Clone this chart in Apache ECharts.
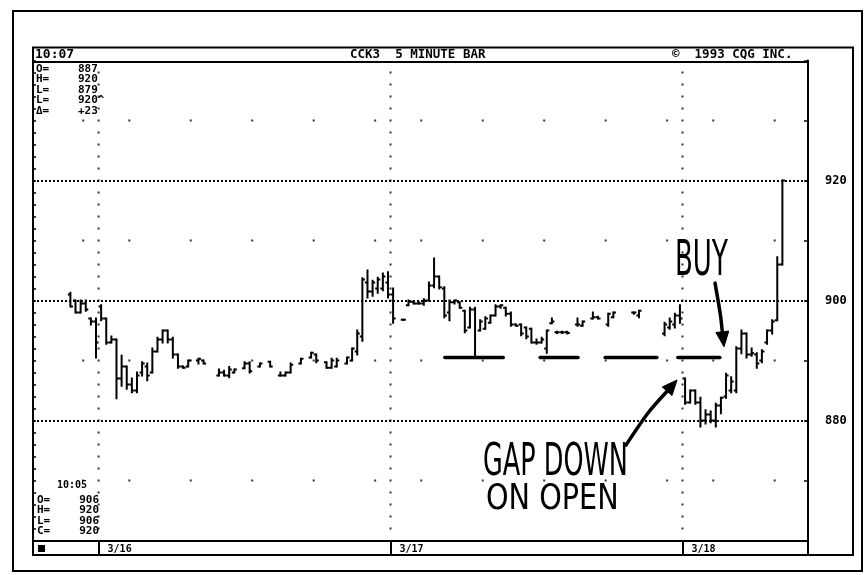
<!DOCTYPE html>
<html><head><meta charset="utf-8">
<script src="https://cdn.jsdelivr.net/npm/echarts@6/dist/echarts.min.js"></script>
<style>html,body{margin:0;padding:0;background:#fff}#c{width:866px;height:575px}</style>
</head><body><div id="c"></div>
<script>
// ---- data ----
const dayLabels = ['3/16', '3/17', '3/18'];
const dayStartIndex = [13, 70, 127];          // bar index where each session starts
const priceTicks = [880, 900, 920];
const hourRows = [870, 890, 910, 930];

const openVals = [
  null,null,null,null,null,null,null,901,900,898,899.5,897,896.5,
  899,897,893,893.5,887,889,886,885,888,889,
  888,891.5,893.5,895,893.5,891,889,889,null,890,
  890,null,null,887.5,888,887.5,888,null,888.7,889.5,
  null,889,null,889.8,null,887.5,887.5,888,null,889.5,
  null,890.5,891,null,889.7,888.8,889,null,889.5,890,
  891.5,894,903,901.5,902,902,903,
  901,null,896.8,899.2,899.8,899.5,899.5,900,902.5,904,
  902,898,899.7,899.7,898.3,895.5,898.5,895,895.3,896.3,
  897.5,899,898.8,897.8,896,896,895.5,895.3,893,893,
  892,896.2,894.7,894.7,894.7,null,896,895.8,null,897,
  897.2,null,896,897.2,null,null,null,898,897.5,null,
  null,null,null,894.5,895.5,896,897.5,
  887,883,885,883,880,881,880,882.5,884,885,
  885,892,894.5,891,891,890,893,895,896.7,906
];
const highVals = [
  null,null,null,null,null,null,null,901.3,900,900,900,897,897,
  899.2,897,894,893.5,890.8,889,887,888,889.7,889.5,
  892,893.8,895,895,893.8,891,889,890,null,890.3,
  890,null,null,888.5,888.3,888.9,888.5,null,889.7,889.7,
  null,889.5,null,889.8,null,888,888,889.5,null,890.3,
  null,891.3,891,null,889.7,890.3,890.3,null,890.5,892,
  895,903.7,905,903.3,903.8,904.5,904.7,
  902,null,896.8,900,899.8,899.7,900.2,903,907,904,
  902.2,900,900,899.7,898.3,898.8,898.8,896.7,897.2,897.5,
  899.2,899.2,898.8,898,896,896,895.5,895.3,893.5,893.8,
  895,897,894.8,894.8,894.8,null,897,896.5,null,898,
  897.3,null,897.8,898,null,null,null,898,898.3,null,
  null,null,null,896.3,897,897.8,899.2,
  887,885,885,883.8,881.7,881.5,882.8,883.8,887.8,887.2,
  892.2,895,894.5,892,891.2,891.7,895,896.7,907.2,920
];
const lowVals = [
  null,null,null,null,null,null,null,899,898,898,898.3,896,890.5,
  896.7,892.8,893,883.7,885.8,885.3,884.7,884.7,887.5,886.7,
  888,891.5,893,893,890.5,888.8,888.8,889,null,889.5,
  889.5,null,null,887.5,887.5,887.2,888,null,888.7,888,
  null,889,null,889,null,887.5,887.5,888,null,889.5,
  null,890.5,889.7,null,888.8,888.8,889,null,889.5,890,
  891,893.3,900.5,900.8,901.3,901.7,900.5,
  896.3,null,896.8,899.2,899.5,899.5,899.3,900,902.2,902,
  897.2,896.7,899.5,898.8,894.7,895.5,890.5,895,895.3,896.3,
  897.5,898.8,897.5,895.8,895.8,894.2,893.7,893,892.8,893,
  891.3,896.2,894.6,894.6,894.5,null,895.8,895.8,null,897,
  897,null,895.8,897.2,null,null,null,897.8,897.2,null,
  null,null,null,894.2,895.3,895.5,896.3,
  882.8,883,882.8,879,879.5,879.7,879,881.2,883.8,884.7,
  884.7,891.2,890.5,890.8,888.8,889.7,892.8,894.5,896.7,906
];
const closeVals = [
  null,null,null,null,null,null,null,899,898,899.5,898.5,896.5,893,
  897,893,893.5,887,889,886,885,887.5,889.5,887.5,
  891.5,893.5,895,893.5,891,889,888.8,890,null,890.3,
  889.5,null,null,888,887.5,888.5,888.5,null,889.5,888.2,
  null,889.5,null,889,null,887.5,888,889.3,null,890.3,
  null,891.3,890,null,888.8,890,890,null,890.5,892,
  894.5,903.5,901.5,903,903.5,904,901,
  897,null,896.8,899.8,899.5,899.5,900,902.5,904,902.2,
  897.5,899.7,900,898.8,895,898.5,890.5,896.5,897,897.5,
  899,899.2,897.8,896,895.8,894.5,894,893,893,893.5,
  895,896.5,894.7,894.7,894.6,null,896,896.5,null,897.2,
  897,null,897.8,898,null,null,null,898,898.3,null,
  null,null,null,896,896.5,897.5,897,
  883,885,883,880,881,880,882.5,883.8,887.5,886.5,
  892,894.5,891,891.2,889.5,891.5,895,896.5,906,920
];

// hand-drawn annotations (in bar-index / price units)
const supportLevel = 890.5;
const supportSegments = [[80.6, 92.0], [99.2, 106.6], [111.9, 122.0], [126.1, 134.3]];
const buyArrow = [[133.35, 902.9], [134.4, 897.6], [135.1, 892.3]];
const gapArrow = [[115.97, 875.9], [120.27, 881.25], [125.93, 886.75]];
const buyLabelAt = [125.54, 906.4];
const gapLabelAt = [88.06, 872.9];
const openLabelAt = [88.64, 866.75];

// ---- build ----
const bars = [];
for (let i = 0; i < openVals.length; i++) {
  if (highVals[i] == null) continue;
  bars.push([i + 0.5, openVals[i], highVals[i], lowVals[i], closeVals[i]]);
}
const dots = [];
dayStartIndex.forEach(s => { for (let p = 862; p <= 938; p += 2) dots.push([s, p]); });
const hourMarks = [dayStartIndex[0] - 3];
dayStartIndex.forEach(s => { for (let k = 0; k < 5; k++) { const v = s + 6 + 12 * k; if (v < 151) hourMarks.push(v); } });
hourMarks.forEach(x => hourRows.forEach(p => dots.push([x, p])));

const mono = '"DejaVu Sans Mono", "Liberation Mono", monospace';
const chart = echarts.init(document.getElementById('c'), null, {renderer: 'canvas'});

function txt(x, y, s, size, align) {
  return {type: 'text', x: x, y: y, z: 10,
    style: {text: s, font: 'bold ' + size + 'px ' + mono, fill: '#000', align: align || 'left', verticalAlign: 'middle'}};
}
function ln(x1, y1, x2, y2, w) {
  return {type: 'line', z: 10, shape: {x1, y1, x2, y2}, style: {stroke: '#000', lineWidth: w || 2}};
}

const graphics = [
  {type: 'rect', z: 10, shape: {x: 13, y: 11, width: 849, height: 560}, style: {fill: null, stroke: '#000', lineWidth: 2}},
  {type: 'rect', z: 10, shape: {x: 33, y: 47.5, width: 820, height: 507.5}, style: {fill: null, stroke: '#000', lineWidth: 2}},
  ln(33, 62, 808, 62, 2),
  ln(808, 540, 808, 555, 2),
  {type: 'rect', z: 10, shape: {x: 38, y: 545, width: 7, height: 7}, style: {fill: '#000'}},
  txt(35, 55, '10:07', 13),
  txt(350, 55, 'CCK3  5 MINUTE BAR', 12.5),
  txt(672, 55, '©  1993 CQG INC.', 12.5),
  txt(36, 69, 'O=', 11), txt(78, 69, '887', 11),
  txt(36, 79.5, 'H=', 11), txt(78, 79.5, '920', 11),
  txt(36, 90, 'L=', 11), txt(78, 90, '879', 11),
  txt(36, 100.5, 'L=', 11), txt(78, 100.5, '920^', 11),
  txt(36, 111, 'Δ=', 11), txt(78, 111, '+23', 11),
  txt(57, 485, '10:05', 10),
  txt(37, 500, 'O=', 11), txt(99, 500, '906', 11, 'right'),
  txt(37, 510.5, 'H=', 11), txt(99, 510.5, '920', 11, 'right'),
  txt(37, 521, 'L=', 11), txt(99, 521, '906', 11, 'right'),
  txt(37, 531.5, 'C=', 11), txt(99, 531.5, '920', 11, 'right')
];

function renderBar(params, api) {
  const x = api.value(0);
  const pH = api.coord([x, api.value(2)]);
  const pL = api.coord([x, api.value(3)]);
  const pO = api.coord([x, api.value(1)]);
  const pC = api.coord([x, api.value(4)]);
  const half = api.size([1, 0])[0] / 2;
  const st = {stroke: '#000', lineWidth: 2};
  return {type: 'group', children: [
    {type: 'line', shape: {x1: pH[0], y1: pH[1] - 1, x2: pL[0], y2: pL[1] + 1}, style: st},
    {type: 'line', shape: {x1: pO[0] - half, y1: pO[1], x2: pO[0], y2: pO[1]}, style: st},
    {type: 'line', shape: {x1: pC[0], y1: pC[1], x2: pC[0] + half, y2: pC[1]}, style: st}
  ]};
}

function renderNotes(params, api) {
  const P = a => api.coord(a);
  const ch = [];
  supportSegments.forEach(seg => {
    const a = P([seg[0], supportLevel]), b = P([seg[1], supportLevel]);
    ch.push({type: 'line', shape: {x1: a[0], y1: a[1], x2: b[0], y2: b[1]}, style: {stroke: '#000', lineWidth: 3.5, lineCap: 'round'}});
  });
  [buyArrow, gapArrow].forEach(arr => {
    const pts = arr.map(P);
    const tip = pts[pts.length - 1], prev = pts[pts.length - 2];
    const ang = Math.atan2(tip[1] - prev[1], tip[0] - prev[0]);
    const L = 15, W = 6.5;
    const bx = tip[0] - L * Math.cos(ang), by = tip[1] - L * Math.sin(ang);
    const shaft = pts.slice(0, -1).concat([[bx, by]]);
    ch.push({type: 'polyline', shape: {points: shaft, smooth: 0.3}, style: {stroke: '#000', lineWidth: 3.5, fill: null, lineCap: 'round'}});
    ch.push({type: 'polygon', shape: {points: [tip, [bx + W * Math.sin(ang), by - W * Math.cos(ang)], [bx - W * Math.sin(ang), by + W * Math.cos(ang)]]}, style: {fill: '#000', stroke: '#000', lineWidth: 1}});
  });
  const hand = '"DejaVu Sans", sans-serif';
  const t = (at, s, size, sx) => { const p = P(at); return {type: 'text', x: p[0], y: p[1], scaleX: sx, style: {text: s, font: size + 'px ' + hand, fill: '#000', align: 'left', verticalAlign: 'middle'}}; };
  ch.push(t(buyLabelAt, 'BUY', 50, 0.52));
  ch.push(t(gapLabelAt, 'GAP DOWN', 44, 0.58));
  ch.push(t(openLabelAt, 'ON OPEN', 35, 0.82));
  return {type: 'group', children: ch};
}

chart.setOption({
  animation: false,
  backgroundColor: '#fff',
  grid: {left: 33, right: 58, top: 60.5, height: 480, containLabel: false},
  xAxis: {
    type: 'value', min: 0.2, max: 151.5,
    axisLine: {show: true, lineStyle: {color: '#000', width: 2}},
    axisTick: {show: true, customValues: dayStartIndex, length: 15, lineStyle: {color: '#000', width: 2}},
    axisLabel: {show: true, customValues: dayStartIndex, formatter: v => dayLabels[dayStartIndex.indexOf(v)] || '',
      align: 'left', padding: [0, 0, 0, 9], margin: 4, color: '#000', fontFamily: mono, fontWeight: 'bold', fontSize: 10},
    splitLine: {show: false}
  },
  yAxis: [
    {type: 'value', position: 'left', min: 860, max: 940, interval: 2,
      axisLine: {show: true, lineStyle: {color: '#000', width: 2}},
      axisTick: {show: true, inside: true, length: 3, lineStyle: {color: '#000', width: 1.5}},
      axisLabel: {show: false}, splitLine: {show: false}},
    {type: 'value', position: 'right', min: 860, max: 940, interval: 10,
      axisLine: {show: true, lineStyle: {color: '#000', width: 2}},
      axisTick: {show: true, inside: true, length: 4, lineStyle: {color: '#000', width: 1.5}},
      axisLabel: {show: true, margin: 17, color: '#000', fontFamily: mono, fontWeight: 'bold', fontSize: 12,
        formatter: v => priceTicks.indexOf(v) >= 0 ? String(v) : ''},
      splitLine: {show: false}}
  ],
  series: [
    {type: 'scatter', name: 'grid', data: dots, symbol: 'rect', symbolSize: 2, silent: true,
      itemStyle: {color: '#000'}, z: 1,
      markLine: {silent: true, symbol: ['none', 'none'], label: {show: false},
        lineStyle: {type: [2, 2], color: '#000', width: 2},
        data: priceTicks.map(p => ({yAxis: p}))}},
    {type: 'custom', name: 'CCK3', data: bars, renderItem: renderBar, encode: {x: 0, y: [1, 2, 3, 4]}, clip: true, z: 3},
    {type: 'custom', name: 'notes', data: [[0, 0]], renderItem: renderNotes, z: 4, silent: true}
  ],
  graphic: graphics
});
</script>
</body></html>
